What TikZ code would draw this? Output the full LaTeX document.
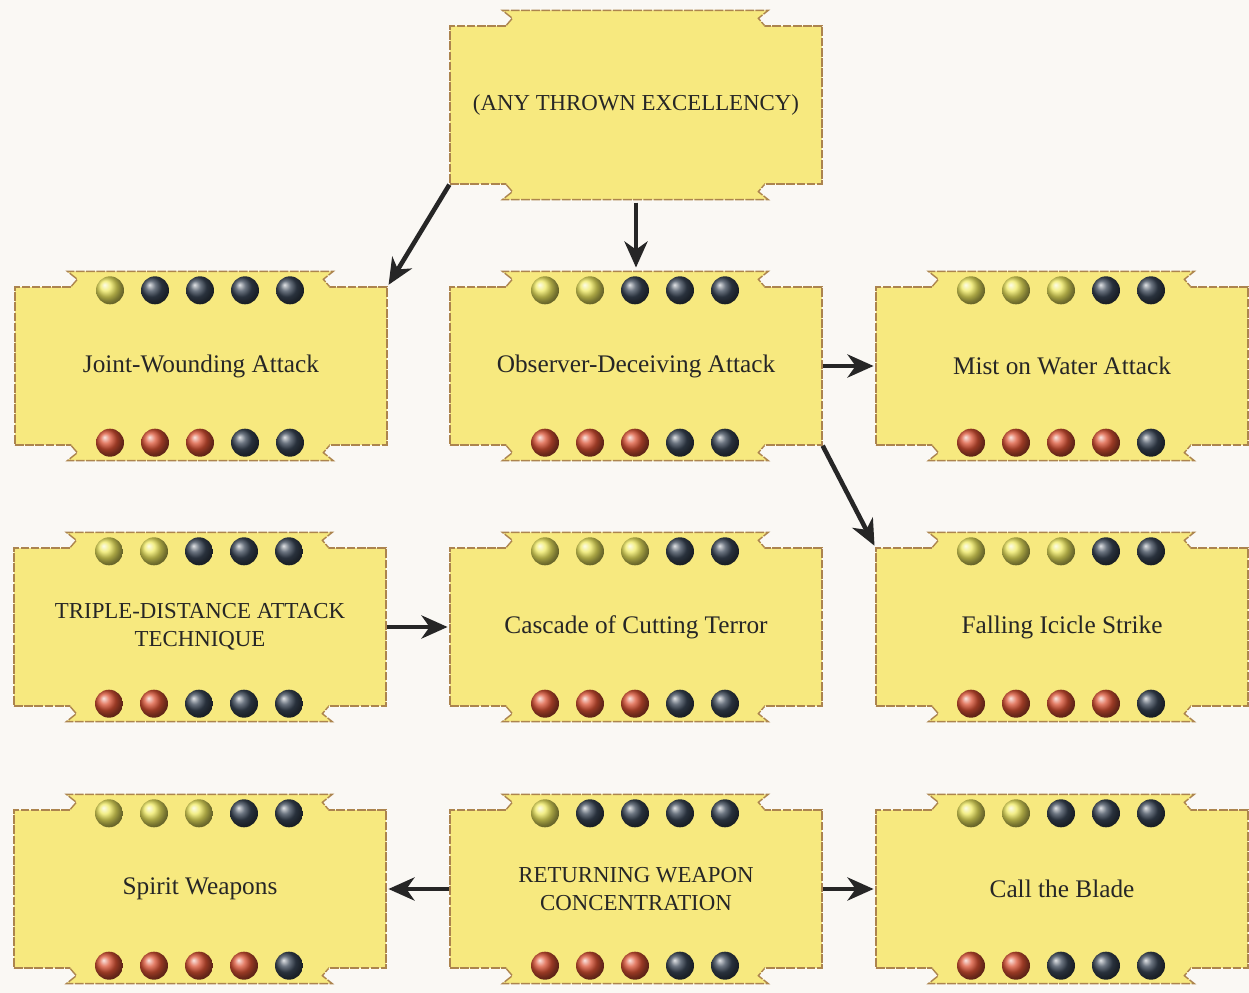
\documentclass[tikz,border=0pt]{standalone}
\usepackage{fontspec}
\setmainfont{Liberation Serif}
\usepackage{tikz}
\usetikzlibrary{arrows.meta,positioning,calc,shadings}
\definecolor{paper}{RGB}{250,248,244}
\definecolor{charmyellow}{RGB}{247,233,127}
\definecolor{charmedge}{RGB}{172,132,78}
\definecolor{essgold}{RGB}{238,232,95}
\definecolor{essslate}{RGB}{58,70,86}
\definecolor{essred}{RGB}{218,82,52}

% notched tabs above and below a charm box
\newcommand{\charmtabs}[1]{%
  \begin{scope}[shift={(#1.north west)}]
    \fill[charmyellow] (57,3) -- (57,0) -- (63,-7) -- (53,-15) -- (319,-15) -- (309,-7) -- (315,0) -- (315,3) -- cycle;
    \draw[charmline] (57,0) -- (63,-7) -- (53,-15) -- (319,-15) -- (309,-7) -- (315,0);
  \end{scope}
  \begin{scope}[shift={(#1.south west)}, yscale=-1]
    \fill[charmyellow] (57,3) -- (57,0) -- (63,-7) -- (53,-15) -- (319,-15) -- (309,-7) -- (315,0) -- (315,3) -- cycle;
    \draw[charmline] (57,0) -- (63,-7) -- (53,-15) -- (319,-15) -- (309,-7) -- (315,0);
  \end{scope}}

% essence dots: top row, bottom row
\newcommand{\essence}[3]{%
  \foreach \col [count=\i] in {#2}
    \shade[ball color=\col] ($(#1.north)+(-136+45*\i,4)$) circle[radius=0.28cm];
  \foreach \col [count=\i] in {#3}
    \shade[ball color=\col] ($(#1.south)+(-136+45*\i,-3)$) circle[radius=0.28cm];}

\begin{document}
\begin{tikzpicture}[x=0.02cm, y=-0.02cm,
    charmline/.style={draw=charmedge, line width=0.8pt, dash pattern=on 5pt off 0.8pt},
    charm/.style={rectangle, charmline, fill=charmyellow, minimum width=7.44cm, minimum height=3.16cm,
      inner sep=0pt, align=center, text=black!85, font=\fontsize{14.4}{16}\selectfont},
    caps/.style={font=\fontsize{13}{16}\selectfont},
    arr/.style={-{Stealth[length=5.2mm, width=4.6mm, inset=1.6mm]}, line width=2.6pt, black!85, shorten >=1pt}]

    \fill[paper] (0,0) rectangle (1249,993);
    \useasboundingbox (0,0) rectangle (1249,993);

    % Root
    \node[charm, caps] (ate) at (636,105) {(ANY THROWN EXCELLENCY)};

    % First row
    \node[charm] (jwa) at (201,366) {Joint-Wounding Attack};
    \node[charm] (oda) at (636,366) {Observer-Deceiving Attack};
    \node[charm] (mwa) at (1062,366) {Mist on Water Attack};

    % Second row
    \node[charm, caps] (tda) at (200,627) {TRIPLE-DISTANCE ATTACK\\TECHNIQUE};
    \node[charm] (cct) at (636,627) {Cascade of Cutting Terror};
    \node[charm] (fis) at (1062,627) {Falling Icicle Strike};

    % Third row
    \node[charm] (sw) at (200,889) {Spirit Weapons};
    \node[charm, caps] (rwc) at (636,889) {RETURNING WEAPON\\CONCENTRATION};
    \node[charm] (ctb) at (1062,889) {Call the Blade};

    \foreach \n in {ate,jwa,oda,mwa,tda,cct,fis,sw,rwc,ctb}
      \charmtabs{\n};

    % Essence and Strength ratings
    \essence{jwa}{essgold,essslate,essslate,essslate,essslate}{essred,essred,essred,essslate,essslate}
    \essence{oda}{essgold,essgold,essslate,essslate,essslate}{essred,essred,essred,essslate,essslate}
    \essence{mwa}{essgold,essgold,essgold,essslate,essslate}{essred,essred,essred,essred,essslate}
    \essence{tda}{essgold,essgold,essslate,essslate,essslate}{essred,essred,essslate,essslate,essslate}
    \essence{cct}{essgold,essgold,essgold,essslate,essslate}{essred,essred,essred,essslate,essslate}
    \essence{fis}{essgold,essgold,essgold,essslate,essslate}{essred,essred,essred,essred,essslate}
    \essence{sw}{essgold,essgold,essgold,essslate,essslate}{essred,essred,essred,essred,essslate}
    \essence{rwc}{essgold,essslate,essslate,essslate,essslate}{essred,essred,essred,essslate,essslate}
    \essence{ctb}{essgold,essgold,essslate,essslate,essslate}{essred,essred,essslate,essslate,essslate}

    % Prerequisites
    \draw[arr] (ate.south west) -- (jwa.north east);
    \draw[arr] ($(ate.south)+(0,18)$) -- ($(oda.north)+(0,-17)$);
    \draw[arr] (oda.east) -- (mwa.west);
    \draw[arr] (oda.south east) -- (fis.north west);
    \draw[arr] (tda.east) -- (cct.west);
    \draw[arr] (rwc.west) -- (sw.east);
    \draw[arr] (rwc.east) -- (ctb.west);
\end{tikzpicture}
\end{document}
